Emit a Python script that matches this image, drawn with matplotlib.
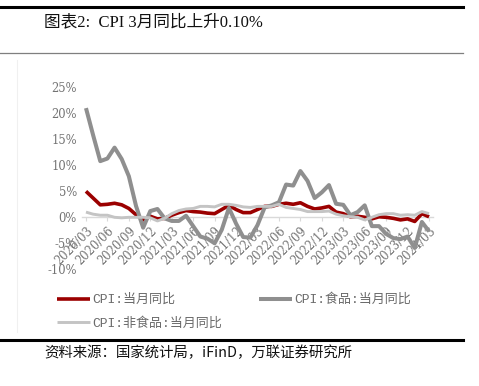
import matplotlib
matplotlib.use("Agg")
import matplotlib.pyplot as plt
from matplotlib.lines import Line2D

# ---- data (2020/03 .. 2024/03, monthly) ----
months = [f"{y}/{m:02d}" for y in range(2020, 2025) for m in range(1, 13)]
months = months[months.index("2020/03"): months.index("2024/03") + 1]

cpi = [5.0, 3.7, 2.4, 2.5, 2.7, 2.4, 1.7, 0.5, -0.5, 0.2,
       -0.3, -0.2, 0.4, 0.9, 1.3, 1.1, 1.0, 0.8, 0.7, 1.5, 2.3, 1.5,
       0.9, 0.9, 1.5, 2.1, 2.1, 2.5, 2.7, 2.5, 2.8, 2.1, 1.6, 1.8,
       2.1, 1.0, 0.7, 0.1, 0.2, 0.0, -0.3, 0.1, 0.0, -0.2, -0.5, -0.3,
       -0.8, 0.7, 0.1]
food = [21.0, 15.8, 10.8, 11.3, 13.4, 11.2, 7.9, 2.2, -2.0, 1.2,
        1.6, -0.2, -0.7, -0.7, 0.3, -1.7, -3.7, -4.1, -5.0, -2.4, 1.8, -1.2,
        -3.8, -3.9, -1.5, 1.9, 2.3, 2.9, 6.3, 6.1, 8.9, 7.0, 3.7, 4.8,
        6.2, 2.6, 2.4, 0.4, 1.0, 2.3, -1.7, -1.7, -3.2, -4.0, -4.2, -3.7,
        -5.9, -0.9, -2.7]
nonfood = [1.0, 0.6, 0.4, 0.4, 0.0, -0.1, 0.0, 0.0, 0.0, -0.1,
           -0.7, -0.2, 0.7, 1.3, 1.6, 1.7, 2.1, 2.1, 2.0, 2.5, 2.5, 2.3,
           2.0, 1.9, 2.1, 2.1, 2.1, 2.5, 1.9, 1.7, 1.5, 1.1, 1.1, 1.1,
           1.2, 0.6, 0.3, 0.1, 0.0, -0.5, 0.0, 0.5, 0.7, 0.7, 0.4, 0.5,
           0.4, 1.1, 0.7]
tick_idx = list(range(0, len(months), 3))
tick_labels = [months[i] for i in tick_idx]
yticks = [-10, -5, 0, 5, 10, 15, 20, 25]

labels = ["CPI:当月同比", "CPI:食品:当月同比", "CPI:非食品:当月同比"]
colors = ["#9b0000", "#8f8f8f", "#c4c4c4"]

W, H = 479, 386
fig = plt.figure(figsize=(W / 100, H / 100), dpi=100)

# axes placement (pixel based)
x_left, x_right = 82.4, 432.6
y_top, y_bot = 87.3, 269.3
ax = fig.add_axes([x_left / W, 1 - y_bot / H, (x_right - x_left) / W, (y_bot - y_top) / H])

x = list(range(len(months)))
l1, = ax.plot(x, cpi, color=colors[0], lw=2.6, solid_capstyle="butt", zorder=3)
l2, = ax.plot(x, food, color=colors[1], lw=2.9, solid_capstyle="butt", zorder=4)
l3, = ax.plot(x, nonfood, color=colors[2], lw=2.1, solid_capstyle="butt", zorder=5)

ax.set_xlim(-0.5, len(months) - 0.5)
ax.set_ylim(-10, 25)
for s in ["top", "right", "left"]:
    ax.spines[s].set_visible(False)
ax.spines["bottom"].set_position(("data", 0))
ax.spines["bottom"].set_color("#d9d9d9")
ax.spines["bottom"].set_linewidth(1.0)

tickfont = {"family": "DejaVu Serif", "size": 8.3}
ax.set_yticks(yticks)
ax.set_yticklabels([f"{v}%" for v in yticks], fontdict=tickfont, color="#737373")
ax.tick_params(axis="y", length=0, pad=4)
ax.set_xticks(tick_idx)
ax.set_xticklabels(tick_labels, fontdict=tickfont, color="#737373",
                   rotation=45, ha="right", va="top", rotation_mode="anchor")
ax.tick_params(axis="x", direction="out", length=3, color="#d9d9d9", pad=2)
ax.set_facecolor("none")

# legend
leg = fig.legend([l1, l3, l2], [labels[0], labels[2], labels[1]], ncol=2,
                 loc="upper left", bbox_to_anchor=(57 / W, 1 - 293.5 / H),
                 frameon=False, borderpad=0, borderaxespad=0,
                 handlelength=2.5, handletextpad=0.2, columnspacing=2.85,
                 labelspacing=0.85,
                 prop={"family": ["Liberation Mono", "Noto Sans CJK SC"], "size": 9.4})
for t in leg.get_texts():
    t.set_color("#6a6a6a")

# decorations: rules, title, source
fig.add_artist(Line2D([0, 463 / W], [1 - 6.5 / H] * 2, color="black", lw=2.2))
fig.add_artist(Line2D([0, 463 / W], [1 - 53.3 / H] * 2, color="#7f7f7f", lw=0.9))
fig.add_artist(Line2D([0, 463 / W], [1 - 339.5 / H] * 2, color="black", lw=2.2))
fig.add_artist(Line2D([17 / W, 17 / W], [1 - 60 / H, 1 - 332 / H], color="#f0f0f0", lw=0.8))

fig.text(44 / W, 1 - 22.5 / H, "图表2:  CPI 3月同比上升0.10%",
         family=["Liberation Serif", "Noto Sans CJK SC"], fontsize=12,
         va="center", ha="left", color="#111111")
fig.text(44 / W, 1 - 353 / H, "资料来源：国家统计局，iFinD，万联证券研究所",
         family=["Noto Sans CJK SC", "DejaVu Sans"], fontsize=10.4, style="italic",
         va="center", ha="left", color="#111111")

fig.savefig("out.png", dpi=100)
